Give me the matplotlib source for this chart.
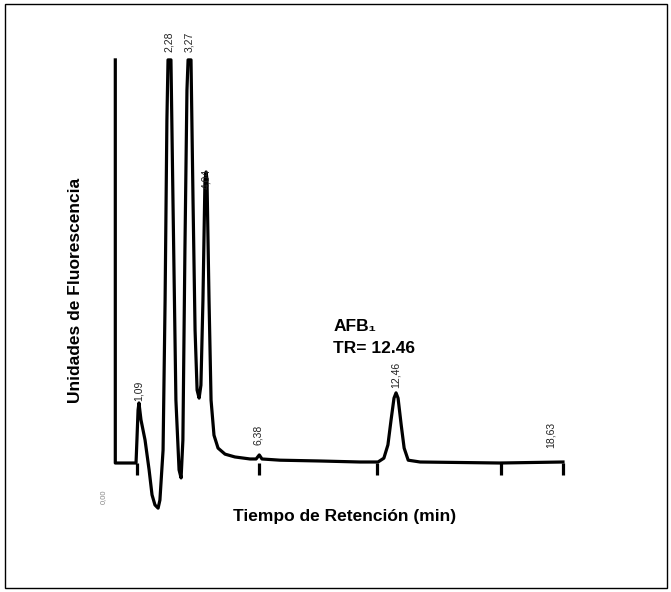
import matplotlib
matplotlib.use("Agg")
import matplotlib.pyplot as plt
from matplotlib.patches import Rectangle

plt.rcParams['font.family'] = ['Liberation Sans', 'DejaVu Sans']

# trace: tiempo (min) / señal (% of full scale)
tiempo = [0.0, 0.0, 0.92, 0.96, 1.01, 1.05, 1.14, 1.32, 1.50, 1.63, 1.76, 1.90,
          1.98, 2.12, 2.21, 2.29, 2.34, 2.47, 2.56, 2.69, 2.83, 2.92, 3.00, 3.09,
          3.18, 3.23, 3.36, 3.45, 3.54, 3.63, 3.72, 3.80, 3.89, 3.98, 4.03, 4.07,
          4.16, 4.25, 4.38, 4.56, 4.87, 5.31, 5.98, 6.25, 6.39, 6.51, 7.31, 9.09,
          10.86, 11.66, 11.92, 12.10, 12.24, 12.37, 12.46, 12.55, 12.69, 12.82,
          13.00, 13.53, 17.07, 19.87]
senal = [100, 0, 0, 5.7, 13.1, 14.9, 10.7, 5.7, -1.7, -7.9, -10.4, -11.2,
         -9.2, 3.2, 40.4, 85, 100, 100, 65, 15.6, -1.7, -3.7, 5.7, 52.8,
         92.5, 100, 100, 65, 33, 18.1, 16.1, 19.3, 40.4, 70.2, 72.2, 70.2,
         40.4, 15.6, 6.9, 3.7, 2.2, 1.5, 1.0, 1.0, 2.0, 1.0, 0.7, 0.5,
         0.25, 0.25, 1.2, 4.5, 10.7, 16.1, 17.4, 16.1, 9.4, 3.7,
         0.7, 0.25, 0.0, 0.25]

# event marks below the baseline
marcas = [0.96, 6.38, 11.62, 17.11, 19.89]

# peak labels printed by the integrator
etiq_t = [1.05, 2.40, 3.30, 4.03, 6.33, 12.46, 19.34]
etiq_s = [15.5, 102.0, 102.0, 68.0, 4.5, 18.5, 3.7]
etiq_txt = ["1,09", "2,28", "3,27", "4,04", "6,38", "12,46", "18,63"]

fig = plt.figure(figsize=(6.71, 5.92), dpi=100)
ax = fig.add_axes([95 / 671, 1 - 540 / 592, 490 / 671, 520 / 592])
ax.set_xlim(-0.901, 20.847)
ax.set_ylim(-19.1, 109.9)
ax.axis('off')

ax.plot(tiempo, senal, color='black', lw=2.3, solid_joinstyle='round')
ax.vlines(marcas, -3.0, 0, color='black', lw=2.3)

for t, s, txt in zip(etiq_t, etiq_s, etiq_txt):
    ax.text(t, s, txt, rotation=90, ha='center', va='bottom', fontsize=7.5,
            color='#222222')

ax.text(-0.55, -8.4, "0,00", rotation=90, ha='center', va='center',
        fontsize=5.5, color='#888888')

ax.text(9.67, 33.8, "AFB₁", fontsize=12.5, fontweight='bold', ha='left',
        va='center')
ax.text(9.67, 28.5, "TR= 12.46", fontsize=12.5, fontweight='bold', ha='left',
        va='center')

fig.text(75 / 671, 1 - 290 / 592, "Unidades de Fluorescencia", rotation=90,
         ha='center', va='center', fontsize=12.5, fontweight='bold')
fig.text(345 / 671, 1 - 516 / 592, "Tiempo de Retención (min)",
         ha='center', va='center', fontsize=12.5, fontweight='bold')

fig.patches.append(Rectangle((5 / 671, 4 / 592), 662 / 671, 584 / 592,
                             transform=fig.transFigure, fill=False,
                             edgecolor='black', lw=1))

fig.savefig("out.png", dpi=100)
